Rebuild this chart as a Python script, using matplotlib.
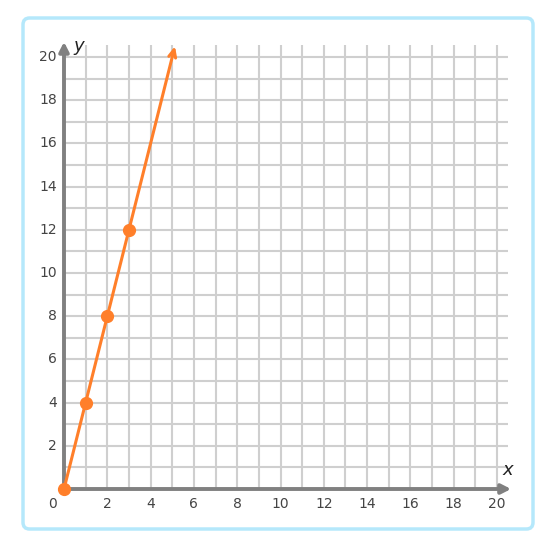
import matplotlib
matplotlib.use("Agg")
import matplotlib.pyplot as plt
from matplotlib.patches import FancyBboxPatch

plt.rcParams['font.family'] = ['DejaVu Sans']

pts_x = [0, 1, 2, 3]
pts_y = [0, 4, 8, 12]
line_end = (5.125, 20.5)
xticks = [2, 4, 6, 8, 10, 12, 14, 16, 18, 20]
yticks = [2, 4, 6, 8, 10, 12, 14, 16, 18, 20]

W, H = 551, 556
fig = plt.figure(figsize=(W / 100, H / 100), dpi=100)
ax = fig.add_axes([0, 0, 1, 1])
sx = 21.65
sy = 21.6
x0p, y0p = 64, 489
ax.set_xlim(-x0p / sx, (W - x0p) / sx)
ax.set_ylim(-(H - y0p) / sy, y0p / sy)
ax.axis("off")

# border
fig.patches.append(FancyBboxPatch((23 / W, 1 - 529 / H), (533 - 23) / W, (529 - 18) / H,
                                  boxstyle="round,pad=0,rounding_size=0.012",
                                  transform=fig.transFigure, fill=False,
                                  edgecolor="#b5e8fb", linewidth=2.5))

grid_c = "#cfcfcf"
for i in range(1, 21):
    ax.plot([i, i], [0, 20.55], color=grid_c, lw=1.5, zorder=1, solid_capstyle="butt")
    ax.plot([0, 20.5], [i, i], color=grid_c, lw=1.5, zorder=1, solid_capstyle="butt")

axc = "#808080"
ax.annotate("", xy=(20.65, 0), xytext=(0, 0),
            arrowprops=dict(arrowstyle="-|>,head_length=0.55,head_width=0.28", color=axc, lw=2.8,
                            shrinkA=0, shrinkB=0), zorder=2)
ax.annotate("", xy=(0, 20.7), xytext=(0, 0),
            arrowprops=dict(arrowstyle="-|>,head_length=0.55,head_width=0.28", color=axc, lw=2.8,
                            shrinkA=0, shrinkB=0), zorder=2)

tc = "#444444"
fs = 10
for t in xticks:
    ax.text(t, -0.69, str(t), ha="center", va="center", fontsize=fs, color=tc)
for t in yticks:
    ax.text(-0.33, t, str(t), ha="right", va="center", fontsize=fs, color=tc)
ax.text(-0.52, -0.69, "0", ha="center", va="center", fontsize=fs, color=tc)
ax.text(20.5, 0.88, "x", ha="center", va="center", fontsize=13, style="italic", color="#222222")
ax.text(0.7, 20.5, "y", ha="center", va="center", fontsize=13, style="italic", color="#222222")

oc = "#FF7F2A"
ax.annotate("", xy=line_end, xytext=(0, 0),
            arrowprops=dict(arrowstyle="->,head_length=0.55,head_width=0.25", color=oc, lw=2.2,
                            shrinkA=0, shrinkB=0), zorder=3)
ax.plot(pts_x, pts_y, "o", color=oc, markersize=8.5, zorder=4)

fig.savefig("out.png", dpi=100)
